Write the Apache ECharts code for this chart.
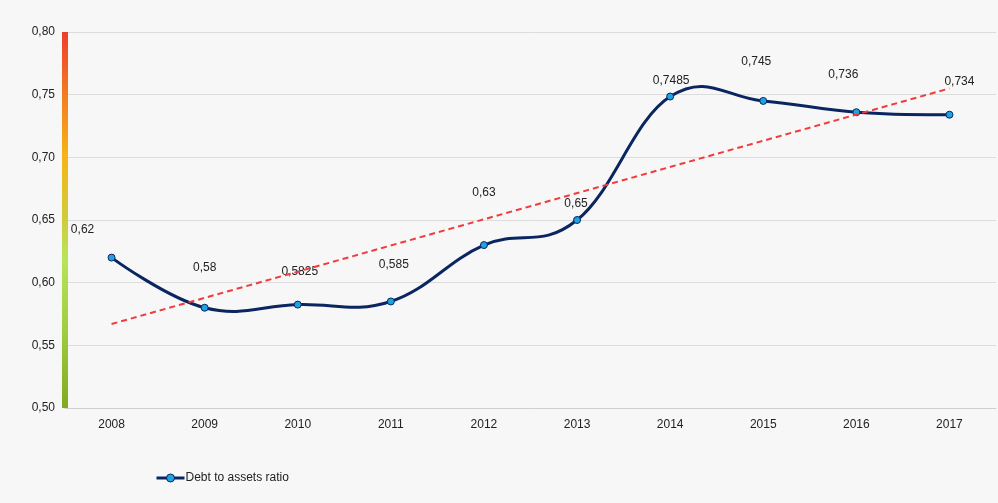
<!DOCTYPE html>
<html><head><meta charset="utf-8">
<script src="https://cdn.jsdelivr.net/npm/echarts@6/dist/echarts.min.js"></script>
<style>html,body{margin:0;padding:0;background:#f7f7f7}#c{width:998px;height:503px}</style>
</head><body><div id="c"></div>
<script>
const categories = ['2008','2009','2010','2011','2012','2013','2014','2015','2016','2017'];
const debtToAssets = [0.62, 0.58, 0.5825, 0.585, 0.63, 0.65, 0.7485, 0.745, 0.736, 0.734];
const trendEnds = [0.567, 0.755];
const yTicks = {min: 0.5, max: 0.8, interval: 0.05};
const labelOffsets = [[-29,-13],[0,-25],[2,-18],[3,-22],[0,-37],[-1,-1],[1,-1],[-7,-24],[-13,-23],[10,-18]];

const NAVY = '#0b2560';
const fmt = v => String(v).replace('.', ',');

// spline path through points (pixel coords obtained from the chart's scales)
function splinePath(pts) {
  const s = 1.5, d = s + 1;
  let path = 'M' + pts[0][0] + ' ' + pts[0][1];
  const conts = pts.map((p, i) => {
    if (i === 0 || i === pts.length - 1) return null;
    const [x, y] = p, [lx, ly] = pts[i-1], [nx, ny] = pts[i+1];
    let lcx = (s*x + lx)/d, lcy = (s*y + ly)/d, rcx = (s*x + nx)/d, rcy = (s*y + ny)/d;
    if (rcx !== lcx) {
      const corr = ((rcy - lcy) * (rcx - x)) / (rcx - lcx) + y - rcy;
      lcy += corr; rcy += corr;
    }
    return {l: [lcx, lcy], r: [rcx, rcy]};
  });
  for (let i = 1; i < pts.length; i++) {
    const c1 = conts[i-1] ? conts[i-1].r : pts[i-1];
    const c2 = conts[i] ? conts[i].l : pts[i];
    path += ' C' + c1[0] + ' ' + c1[1] + ' ' + c2[0] + ' ' + c2[1] + ' ' + pts[i][0] + ' ' + pts[i][1];
  }
  return path;
}

const chart = echarts.init(document.getElementById('c'));
chart.setOption({
  backgroundColor: '#f7f7f7',
  textStyle: {fontFamily: 'Liberation Sans, Arial, sans-serif'},
  grid: {left: 65, right: 2, top: 32, bottom: 95},
  legend: {
    left: 150, top: 467, itemWidth: 28, itemHeight: 10, itemGap: 10,
    textStyle: {fontSize: 12, color: '#222', padding: [0, 0, 0, -4]},
    data: [{name: 'Debt to assets ratio',
      itemStyle: {color: '#1ea3e0', borderColor: NAVY, borderWidth: 1},
      lineStyle: {color: NAVY, width: 3, opacity: 1}}]
  },
  xAxis: {
    type: 'category', data: categories, boundaryGap: true,
    axisLine: {lineStyle: {color: '#d0d0d0'}},
    axisTick: {show: false},
    axisLabel: {color: '#222', fontSize: 12, margin: 11}
  },
  yAxis: {
    type: 'value', min: yTicks.min, max: yTicks.max, interval: yTicks.interval,
    axisLine: {show: true, lineStyle: {width: 6, cap: 'butt', color: new echarts.graphic.LinearGradient(0,0,0,1,[
      {offset:0, color:'#ee3a2f'},
      {offset:0.17, color:'#f37a22'},
      {offset:0.33, color:'#f5b417'},
      {offset:0.5, color:'#cfcd3c'},
      {offset:0.6, color:'#b8e45a'},
      {offset:0.8, color:'#9ecb3f'},
      {offset:1, color:'#80a81e'}
    ])}},
    axisTick: {show: false},
    axisLabel: {color: '#222', fontSize: 12, margin: 10, formatter: v => v.toFixed(2).replace('.', ',')},
    splitLine: {lineStyle: {color: '#dcdcdc'}}
  },
  series: [{
    name: 'curve', type: 'custom', z: 2, silent: true,
    data: debtToAssets.map((v, i) => [i, v]),
    renderItem: (params, api) => {
      if (params.dataIndex !== 0) return null;
      const pts = debtToAssets.map((v, i) => api.coord([i, v]));
      return {type: 'path', shape: {pathData: splinePath(pts)},
        style: {fill: 'none', stroke: NAVY, lineWidth: 3, lineJoin: 'round'}};
    },
    markLine: {
      silent: true, symbol: 'none', animation: false,
      lineStyle: {color: '#f03c3c', type: [6, 4], width: 2},
      label: {show: false},
      data: [[{coord: [categories[0], trendEnds[0]]}, {coord: [categories[categories.length-1], trendEnds[1]]}]]
    }
  }, {
    name: 'Debt to assets ratio', type: 'line',
    data: debtToAssets.map((v,i) => ({value: v, label: {offset: labelOffsets[i]}})),
    lineStyle: {color: NAVY, width: 3, opacity: 0},
    itemStyle: {color: '#1ea3e0', borderColor: NAVY, borderWidth: 1},
    symbol: 'circle', symbolSize: 7, z: 3,
    label: {show: true, position: 'top', color: '#222', fontSize: 12, formatter: p => fmt(p.value)}
  }],
  animation: false
});
</script></body></html>
